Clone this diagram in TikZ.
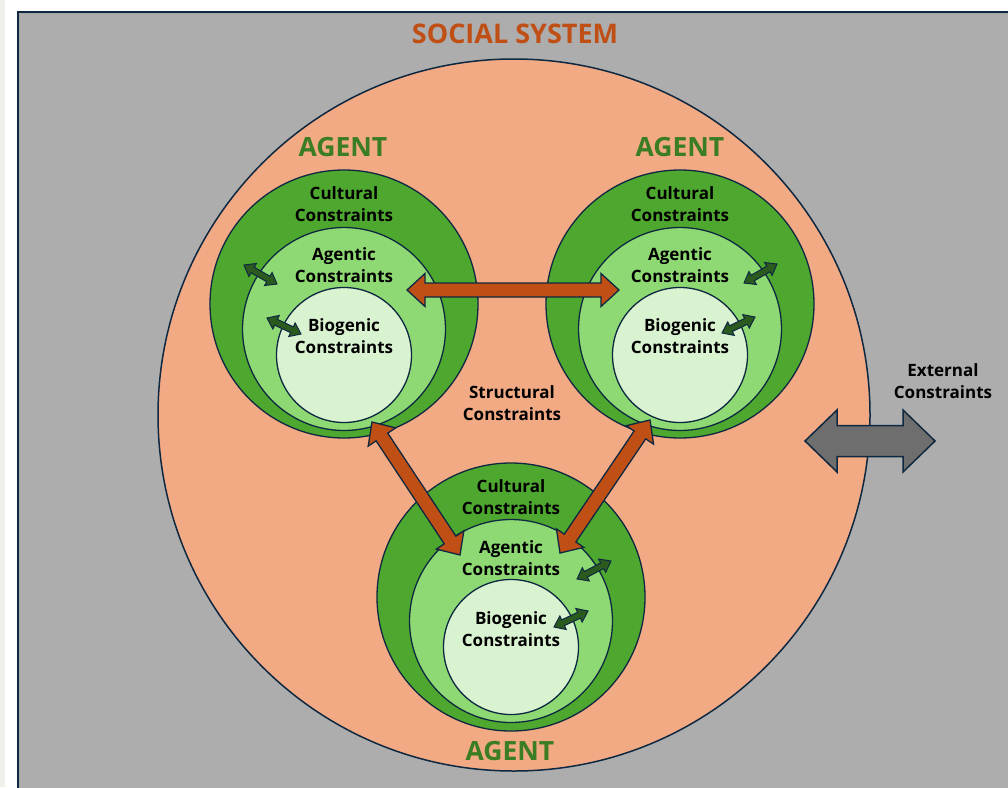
\documentclass[tikz,border=0pt]{standalone}
\usepackage{fontspec}
\setmainfont{Open Sans}
\usetikzlibrary{calc}
\definecolor{bggray}{HTML}{ADADAD}
\definecolor{salmon}{HTML}{F2AA84}
\definecolor{gcult}{HTML}{4EA72E}
\definecolor{gagen}{HTML}{8ED973}
\definecolor{gbio}{HTML}{D9F2D0}
\definecolor{navy}{HTML}{0E2841}
\definecolor{agenttxt}{HTML}{3B7D23}
\definecolor{rust}{HTML}{C04F15}
\definecolor{smallg}{HTML}{2B5A1E}
\definecolor{arrgray}{HTML}{6E6E6E}
\definecolor{strip}{HTML}{EEF0EA}
\newcommand\dblarr[6]{%
  \path ($(#2)!#6!(#3)$) coordinate (da) ($(#3)!#6!(#2)$) coordinate (db);
  \filldraw[#1] (#2) -- ($(da)!#5!-90:(#3)$) -- ($(da)!#4!-90:(#3)$) -- ($(db)!#4!90:(#2)$) -- ($(db)!#5!90:(#2)$) -- (#3) -- ($(db)!#5!-90:(#2)$) -- ($(db)!#4!-90:(#2)$) -- ($(da)!#4!90:(#3)$) -- ($(da)!#5!90:(#3)$) -- cycle;}
\tikzset{
  ring/.style={circle, draw=navy, line width=1.3pt, inner sep=0pt},
  cult/.style={ring, fill=gcult, minimum size=268pt},
  agen/.style={ring, fill=gagen, minimum size=203pt},
  bio/.style={ring, fill=gbio, minimum size=135pt},
  lbl/.style={align=center, font=\bfseries\fontsize{17}{22}\selectfont, text=black, inner sep=0pt},
  agentlbl/.style={font=\bfseries\fontsize{26.5}{30}\selectfont, text=agenttxt, inner sep=0pt},
  bigarr/.style={fill=rust, draw=navy, line width=1.3pt, line join=miter},
  smallarr/.style={fill=smallg, draw=navy, line width=1pt, line join=miter},
  grayarr/.style={fill=arrgray, draw=navy, line width=1.5pt, line join=miter}
}
\begin{document}
\begin{tikzpicture}[x=1pt,y=-1pt]
\useasboundingbox (0,0) rectangle (1008,787);
\fill[white] (0,0) rectangle (1008,787);
\fill[strip] (0,0) rectangle (5,787);
% frame
\filldraw[fill=bggray, draw=navy, line width=2pt] (18,12) rectangle (1012,792);
\draw[gray!70, line width=0.6pt] (19.6,13.6) -- (1010,13.6);
\draw[gray!70, line width=0.6pt] (19.6,13.6) -- (19.6,790);
% social system
\node[circle, draw=navy, line width=1.5pt, fill=salmon, minimum size=712pt, inner sep=0pt] (soc) at (514,415) {};
% agents
\node[cult] (c1) at (344,304) {};
\node[agen] (a1) at (344,329) {};
\node[bio]  (b1) at (344,355) {};
\node[cult] (c2) at (680,304) {};
\node[agen] (a2) at (680,329) {};
\node[bio]  (b2) at (680,355) {};
\node[cult] (c3) at (511,597) {};
\node[agen] (a3) at (511,621) {};
\node[bio]  (b3) at (511,647) {};
% orange arrows
\coordinate (h1) at (407,290);
\coordinate (h2) at (619,290);
\coordinate (l1) at (372,422);
\coordinate (l2) at (460,555);
\coordinate (r1) at (650,420);
\coordinate (r2) at (560,553);
\dblarr{bigarr}{h1}{h2}{7pt}{16.5pt}{18pt}
\dblarr{bigarr}{l1}{l2}{7pt}{16.5pt}{18pt}
\dblarr{bigarr}{r1}{r2}{7pt}{16.5pt}{18pt}
% small arrows
\coordinate (s1a) at (244,265); \coordinate (s1b) at (277,284);
\coordinate (s2a) at (267,318); \coordinate (s2b) at (301,334);
\coordinate (s3a) at (744,283); \coordinate (s3b) at (777,264);
\coordinate (s4a) at (722,333); \coordinate (s4b) at (755,317);
\coordinate (s5a) at (577,579); \coordinate (s5b) at (611,561);
\coordinate (s6a) at (554,627); \coordinate (s6b) at (588,611);
\dblarr{smallarr}{s1a}{s1b}{3.2pt}{7.5pt}{10pt}
\dblarr{smallarr}{s2a}{s2b}{3.2pt}{7.5pt}{10pt}
\dblarr{smallarr}{s3a}{s3b}{3.2pt}{7.5pt}{10pt}
\dblarr{smallarr}{s4a}{s4b}{3.2pt}{7.5pt}{10pt}
\dblarr{smallarr}{s5a}{s5b}{3.2pt}{7.5pt}{10pt}
\dblarr{smallarr}{s6a}{s6b}{3.2pt}{7.5pt}{10pt}
% gray external arrow
\coordinate (g1) at (805,441);
\coordinate (g2) at (935,441);
\dblarr{grayarr}{g1}{g2}{15.5pt}{31pt}{32pt}
% texts
\node[font=\bfseries\fontsize{27}{30}\selectfont, text=rust, inner sep=0pt] (title) at (515,34) {SOCIAL SYSTEM};
\node[agentlbl] (ag1) at (343,147) {AGENT};
\node[agentlbl] (ag2) at (680,147) {AGENT};
\node[agentlbl] (ag3) at (510,751) {AGENT};
\node[lbl] (t1) at (344,204) {Cultural\\Constraints};
\node[lbl] (t2) at (344,265) {Agentic\\Constraints};
\node[lbl] (t3) at (344,336) {Biogenic\\Constraints};
\node[lbl] (t4) at (680,204) {Cultural\\Constraints};
\node[lbl] (t5) at (680,265) {Agentic\\Constraints};
\node[lbl] (t6) at (680,336) {Biogenic\\Constraints};
\node[lbl] (t7) at (511,497) {Cultural\\Constraints};
\node[lbl] (t8) at (511,558) {Agentic\\Constraints};
\node[lbl] (t9) at (511,629) {Biogenic\\Constraints};
\node[lbl] (st) at (512,403) {Structural\\Constraints};
\node[lbl] (ext) at (943,381) {External\\Constraints};
\end{tikzpicture}
\end{document}
